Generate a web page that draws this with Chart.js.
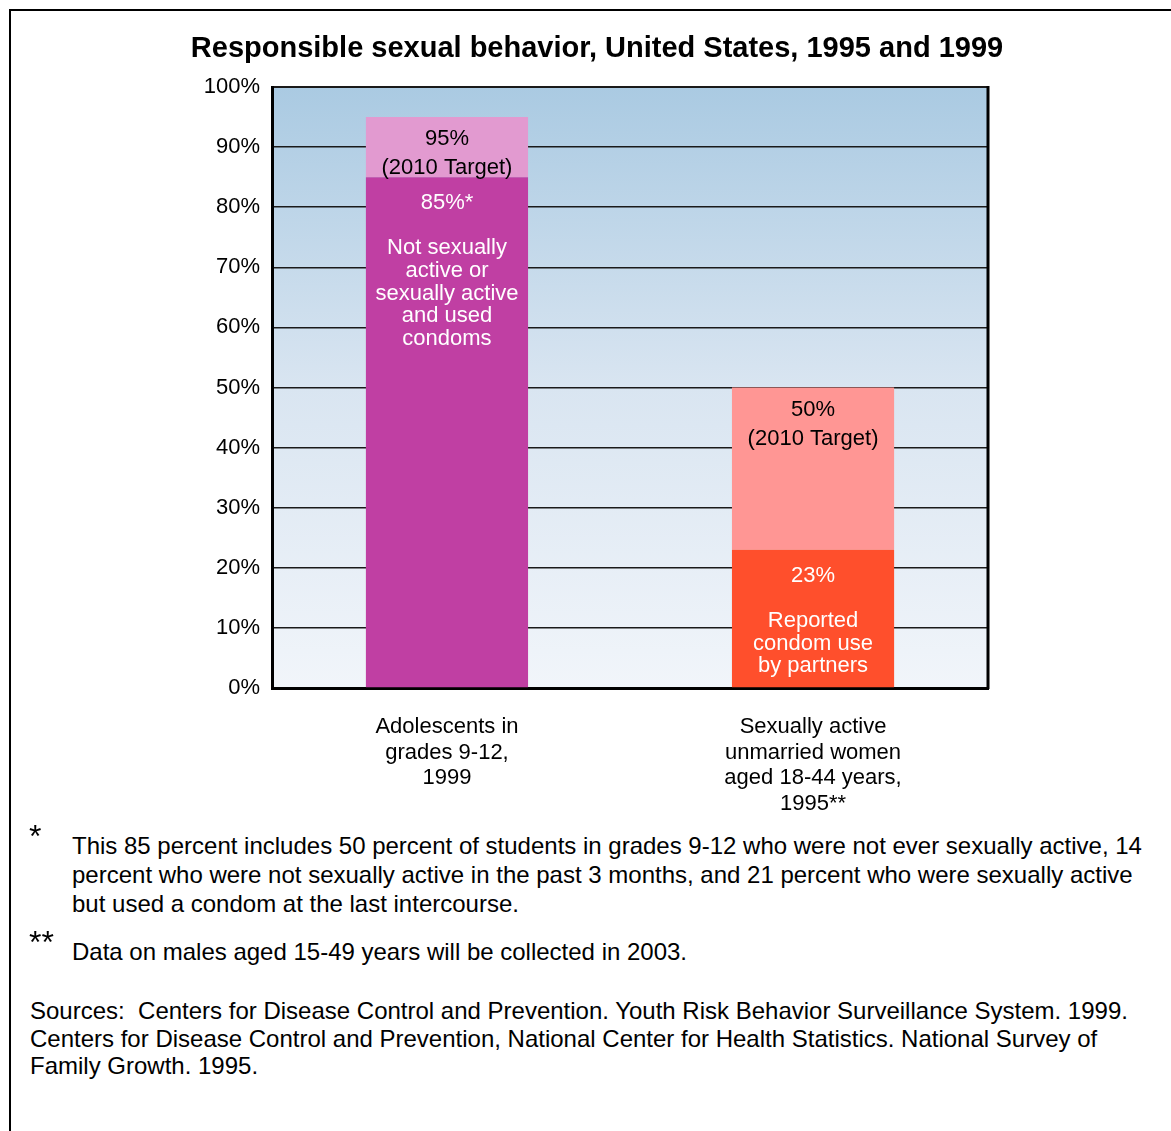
<!DOCTYPE html>
<html>
<head>
<meta charset="utf-8">
<script src="https://cdn.jsdelivr.net/npm/chart.js@4"></script>
<style>
    body {
        margin: 0;
        width: 1171px;
        height: 1131px;
        overflow: hidden;
        background: #fff;
        font-family: "Liberation Sans", Arial, sans-serif;
        color: #000;
        position: relative;
    }
    #frame {
        position: absolute;
        left: 9px;
        top: 9px;
        width: 1200px;
        height: 1200px;
        border-left: 2px solid #000;
        border-top: 2px solid #000;
    }
    #title {
        position: absolute;
        left: 0;
        top: 29px;
        width: 1194px;
        text-align: center;
        font-weight: bold;
        font-size: 29px;
        line-height: 36px;
    }
    #chartBox {
        position: absolute;
        left: 0;
        top: 0;
        width: 1171px;
        height: 830px;
    }
    .note {
        position: absolute;
        font-size: 24px;
        white-space: nowrap;
    }
    .mark {
        position: absolute;
        font-size: 32px;
        left: 29px;
    }
</style>
</head>
<body>
<div id="frame"></div>
<div id="chartBox"><canvas id="behaviorChart"></canvas></div>
<div id="title">Responsible sexual behavior, United States, 1995 and 1999</div>

<div class="mark" style="top: 818px;">*</div>
<div class="note" style="left: 72px; top: 831px; line-height: 29px;">
    This 85 percent includes 50 percent of students in grades 9-12 who were not ever sexually active, 14<br>
    percent who were not sexually active in the past 3 months, and 21 percent who were sexually active<br>
    but used a condom at the last intercourse.
</div>
<div class="mark" style="top: 924px;">**</div>
<div class="note" style="left: 72px; top: 937px; line-height: 29px;">
    Data on males aged 15-49 years will be collected in 2003.
</div>
<div class="note" style="left: 30px; top: 997px; line-height: 27.5px;">
    Sources:&nbsp; Centers for Disease Control and Prevention. Youth Risk Behavior Surveillance System. 1999.<br>
    Centers for Disease Control and Prevention, National Center for Health Statistics. National Survey of<br>
    Family Growth. 1995.
</div>

<script>
// data
const categories = [
    ["Adolescents in", "grades 9-12,", "1999"],
    ["Sexually active", "unmarried women", "aged 18-44 years,", "1995**"],
];
const achieved = [85, 23];
const targets = [95, 50];
const yTicks = [0, 10, 20, 30, 40, 50, 60, 70, 80, 90, 100];

const achievedText = [
    ["85%*", "", "Not sexually", "active or", "sexually active", "and used", "condoms"],
    ["23%", "", "Reported", "condom use", "by partners"],
];
const targetText = [
    ["95%", "(2010 Target)"],
    ["50%", "(2010 Target)"],
];

const achievedColors = ["#c03fa3", "#ff4f2c"];
const targetColors = ["#e29ad0", "#ff9694"];

// the part of the target bar above what was reached
const targetGap = targets.map((t, i) => t - achieved[i]);

const FONT = "'Liberation Sans', Arial, sans-serif";

// gradient plot background + right frame line
const backgroundPlugin = {
    id: "plotBackground",
    beforeDraw(chart) {
        const { ctx, chartArea } = chart;
        const g = ctx.createLinearGradient(0, chartArea.top, 0, chartArea.bottom);
        g.addColorStop(0, "#aacae2");
        g.addColorStop(0.5, "#d9e5f1");
        g.addColorStop(1, "#f1f5fa");
        ctx.save();
        ctx.fillStyle = g;
        ctx.fillRect(chartArea.left, chartArea.top, chartArea.right - chartArea.left, chartArea.bottom - chartArea.top);
        ctx.restore();
    },
    afterDraw(chart) {
        const { ctx, chartArea } = chart;
        ctx.save();
        ctx.strokeStyle = "#000";
        ctx.lineWidth = 3;
        ctx.beginPath();
        ctx.moveTo(chartArea.right, chartArea.top - 1);
        ctx.lineTo(chartArea.right, chartArea.bottom + 1);
        ctx.stroke();
        ctx.restore();
    },
};

// text written inside the bar segments
const barTextPlugin = {
    id: "barText",
    afterDatasetsDraw(chart) {
        const { ctx } = chart;
        ctx.save();
        ctx.font = "22px " + FONT;
        ctx.textAlign = "center";
        ctx.textBaseline = "middle";

        chart.getDatasetMeta(0).data.forEach((bar, i) => {
            ctx.fillStyle = "#fff";
            achievedText[i].forEach((line, j) => {
                ctx.fillText(line, bar.x, bar.y + 26 + j * 22.6);
            });
        });
        chart.getDatasetMeta(1).data.forEach((bar, i) => {
            ctx.fillStyle = "#000";
            targetText[i].forEach((line, j) => {
                ctx.fillText(line, bar.x, bar.y + 22 + j * 29);
            });
        });
        ctx.restore();
    },
};

new Chart(document.getElementById("behaviorChart"), {
    type: "bar",
    data: {
        datasets: [
            {
                label: "Reached",
                data: achieved.map((v, i) => ({ x: i, y: v })),
                backgroundColor: achievedColors,
                stack: "s",
            },
            {
                label: "2010 Target",
                data: targetGap.map((v, i) => ({ x: i, y: v })),
                backgroundColor: targetColors,
                stack: "s",
            },
        ],
    },
    options: {
        responsive: true,
        maintainAspectRatio: false,
        animation: false,
        barPercentage: 0.443,
        categoryPercentage: 1,
        layout: {
            padding: { left: 192, right: 183, top: 87, bottom: 12 },
        },
        plugins: {
            legend: { display: false },
            tooltip: { enabled: false },
        },
        scales: {
            x: {
                type: "linear",
                stacked: true,
                min: -0.478,
                max: 1.478,
                offset: false,
                afterBuildTicks(scale) {
                    scale.ticks = categories.map((c, i) => ({ value: i }));
                },
                grid: { display: false, drawTicks: false },
                border: { color: "#000", width: 3 },
                ticks: {
                    color: "#000",
                    padding: 26,
                    maxRotation: 0,
                    autoSkip: false,
                    font: { family: FONT, size: 22, lineHeight: 1.17 },
                    callback: (v) => categories[v],
                },
                afterFit(scale) {
                    scale.height = 130;
                },
            },
            y: {
                stacked: true,
                min: 0,
                max: 100,
                afterBuildTicks(scale) {
                    scale.ticks = yTicks.map((v) => ({ value: v }));
                },
                grid: {
                    color: "#1a1a1a",
                    lineWidth: (c) => (c.tick && c.tick.value === 100 ? 2 : 1.5),
                    drawTicks: false,
                },
                border: { color: "#000", width: 3 },
                ticks: {
                    color: "#000",
                    padding: 12,
                    font: { family: FONT, size: 22 },
                    callback: (v) => v + "%",
                },
                afterFit(scale) {
                    scale.width = 80;
                },
            },
        },
    },
    plugins: [backgroundPlugin, barTextPlugin],
});
</script>
</body>
</html>
